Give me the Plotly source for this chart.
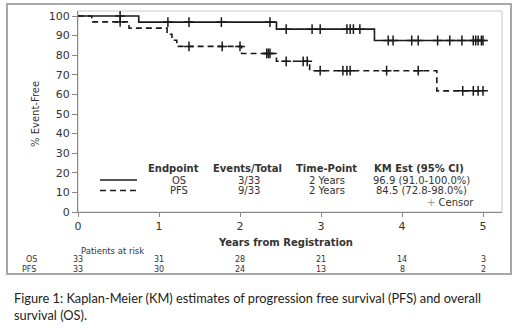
import plotly.graph_objects as go
import numpy as np

# ---------------- data ----------------
os_event_times = [0.0, 0.75, 2.45, 3.66, 5.0]
os_survival = [100.0, 96.9, 93.3, 87.5, 87.5]
os_censor_times = [0.52, 1.11, 1.37, 1.77, 2.37, 2.57, 2.89, 2.99, 3.32, 3.36, 3.40, 3.48,
                   3.83, 3.89, 4.12, 4.20, 4.44, 4.59, 4.74, 4.88, 4.91, 4.94, 4.98, 5.0]

pfs_event_times = [0.0, 0.17, 0.63, 1.10, 1.16, 1.22, 2.02, 2.45, 2.86, 4.43, 5.0]
pfs_survival = [100.0, 97.0, 93.8, 90.7, 87.6, 84.5, 80.9, 76.9, 72.1, 61.8, 61.8]
pfs_censor_times = [0.52, 1.37, 1.78, 2.00, 2.33, 2.35, 2.37, 2.57, 2.78, 2.83, 2.99, 3.27,
                    3.32, 3.36, 3.81, 4.20, 4.75, 4.88, 4.94, 5.0]

x_ticks = [0, 1, 2, 3, 4, 5]
y_ticks = [0, 10, 20, 30, 40, 50, 60, 70, 80, 90, 100]

risk_times = [0, 1, 2, 3, 4, 5]
os_at_risk = [33, 31, 28, 21, 14, 3]
pfs_at_risk = [33, 30, 24, 13, 8, 2]

legend_headers = ["Endpoint", "Events/Total", "Time-Point", "KM Est (95% CI)"]
os_row = ["OS", "3/33", "2 Years", "96.9 (91.0-100.0%)"]
pfs_row = ["PFS", "9/33", "2 Years", "84.5 (72.8-98.0%)"]

caption = ("Figure 1: Kaplan-Meier (KM) estimates of progression free survival (PFS) and overall<br>"
           "survival (OS).")

# ---------------- layout geometry ----------------
W, H = 520, 330
L, R, T, B = 78, 502, 11, 212   # plot wall in page pixels
PXW, PXH = R - L, B - T


def px(xp):
    return (xp - L) / PXW


def py(yp):
    return (B - yp) / PXH


def step_value(times, surv, t):
    idx = np.searchsorted(np.array(times), t, side="right") - 1
    return surv[max(idx, 0)]


FONT = "DejaVu Sans"
TXT = "#333333"
LINE = "#1a1a1a"

fig = go.Figure()

fig.add_trace(go.Scatter(x=os_event_times, y=os_survival, mode="lines",
                         line=dict(shape="hv", color=LINE, width=1.6), hoverinfo="skip"))
fig.add_trace(go.Scatter(x=pfs_event_times, y=pfs_survival, mode="lines",
                         line=dict(shape="hv", color=LINE, width=1.6, dash="6px,4px"), hoverinfo="skip"))

fig.add_trace(go.Scatter(x=os_censor_times,
                         y=[step_value(os_event_times, os_survival, t) for t in os_censor_times],
                         mode="markers",
                         marker=dict(symbol="cross-thin", size=7, line=dict(color=LINE, width=1.5)),
                         hoverinfo="skip"))
fig.add_trace(go.Scatter(x=pfs_censor_times,
                         y=[step_value(pfs_event_times, pfs_survival, t) for t in pfs_censor_times],
                         mode="markers",
                         marker=dict(symbol="cross-thin", size=7, line=dict(color=LINE, width=1.5)),
                         hoverinfo="skip"))

annotations = []


def note(text, xp, yp, size=10, xanchor="center", yanchor="middle", xref="paper", family=FONT,
         color=TXT, **kw):
    xv = px(xp) if xref == "paper" else xp
    annotations.append(dict(text=text, x=xv, y=py(yp), xref=xref, yref="paper",
                            xanchor=xanchor, yanchor=yanchor, showarrow=False,
                            font=dict(family=family, size=size, color=color), **kw))


# axis titles
note("% Event-Free", 35, 114, textangle=-90)
note("<b>Years from Registration</b>", 285, 242.5)

# legend table
col_x = [173, 247, 326, 419]
row_x = [179, 249, 327, 421]
for cx, h in zip(col_x, legend_headers):
    note("<b>" + h + "</b>", cx, 168)
for cx, v in zip(row_x, os_row):
    note(v, cx, 180)
for cx, v in zip(row_x, pfs_row):
    note(v, cx, 190.5)
note("<span style='color:#999999'>+</span> Censor", 476, 202.5, xanchor="right")

# patients at risk
note("Patients at risk", 79, 251, size=8.5, xanchor="left")
note("OS", 31, 259.5, size=8)
note("PFS", 29, 269, size=8)
for t, n1, n2 in zip(risk_times, os_at_risk, pfs_at_risk):
    note(str(n1), t, 259.5, size=8, xref="x")
    note(str(n2), t, 269, size=8, xref="x")

# caption
note(caption, 12, 288, size=12.8, xanchor="left", yanchor="top", family="Lato", color="#222222",
     align="left")

shapes = [
    # outer frame
    dict(type="rect", xref="paper", yref="paper", x0=px(7), x1=px(511), y0=py(4), y1=py(274),
         line=dict(color="#a8a8a8", width=2), layer="below"),
    # plot wall
    dict(type="rect", xref="paper", yref="paper", x0=0, x1=1, y0=0, y1=1,
         line=dict(color="#c8c8c8", width=1), layer="below"),
    # legend samples
    dict(type="line", xref="paper", yref="paper", x0=px(100), x1=px(137), y0=py(180), y1=py(180),
         line=dict(color=LINE, width=1.6)),
    dict(type="line", xref="paper", yref="paper", x0=px(100), x1=px(137), y0=py(190.5), y1=py(190.5),
         line=dict(color=LINE, width=1.6, dash="6px,4px")),
]

fig.update_layout(
    width=W, height=H,
    margin=dict(l=L, r=W - R, t=T, b=H - B, pad=0),
    paper_bgcolor="white", plot_bgcolor="white",
    showlegend=False,
    annotations=annotations,
    shapes=shapes,
    xaxis=dict(range=[0, PXW / 81.0], tickvals=x_ticks, ticktext=[str(v) for v in x_ticks],
               showgrid=False, zeroline=False, showline=True, linecolor="#888888", linewidth=1,
               ticks="outside", ticklen=4, tickcolor="#888888",
               tickfont=dict(family=FONT, size=11, color=TXT)),
    yaxis=dict(range=[0, PXH / 1.96], tickvals=y_ticks, ticktext=[str(v) for v in y_ticks],
               showgrid=False, zeroline=False, showline=True, linecolor="#888888", linewidth=1,
               ticks="outside", ticklen=5, tickcolor="#888888",
               tickfont=dict(family=FONT, size=11, color=TXT)),
)

fig.write_html("out.html", config={"displayModeBar": False},
               post_script="document.body.style.margin='0';")
